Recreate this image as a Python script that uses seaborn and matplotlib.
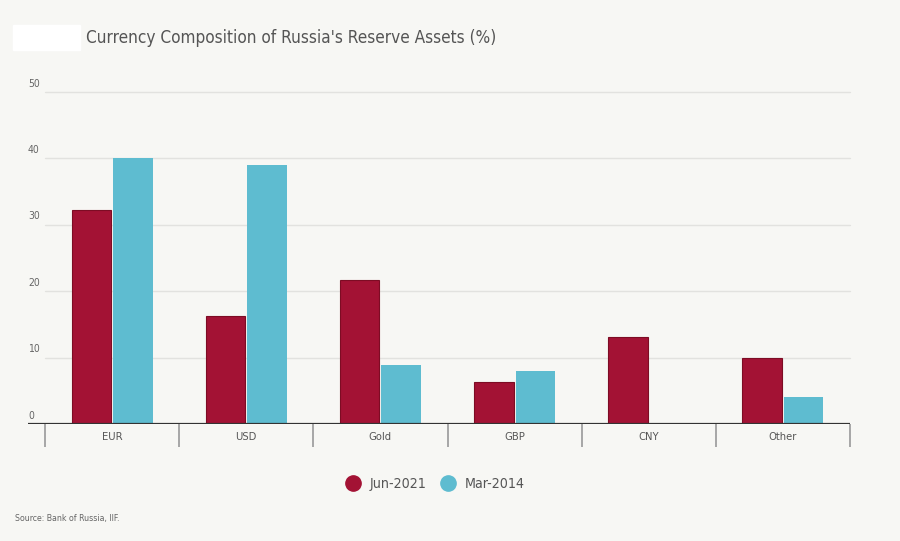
import matplotlib
matplotlib.use("Agg")
import matplotlib.pyplot as plt
import matplotlib.patches as mpatches
from matplotlib.lines import Line2D
import matplotlib.transforms as mtransforms
import seaborn as sns
import pandas as pd

categories = ["EUR", "USD", "Gold", "GBP", "CNY", "Other"]
series_names = ["Jun-2021", "Mar-2014"]
jun_2021 = [32.2, 16.3, 21.7, 6.4, 13.1, 9.9]
mar_2014 = [40.0, 39.0, 8.9, 8.0, 0.0, 4.0]
y_ticks = [0, 10, 20, 30, 40, 50]
colors = ["#a31234", "#5ebcd0"]
title = "Currency Composition of Russia's Reserve Assets (%)"
source = "Source: Bank of Russia, IIF."

df = pd.DataFrame({
    "category": categories * 2,
    "series": [series_names[0]] * len(categories) + [series_names[1]] * len(categories),
    "value": jun_2021 + mar_2014,
})

sns.set_theme(style="white")
plt.rcParams["font.family"] = ["DejaVu Sans"]
plt.rcParams["font.stretch"] = "condensed"

bg = "#f7f7f4"
fig = plt.figure(figsize=(9, 5.41), dpi=100, facecolor=bg)
W, H = 900, 541
ax = fig.add_axes([28 / W, (H - 424) / H, (850 - 28) / W, (424 - 92) / H])
ax.set_facecolor(bg)

sns.barplot(data=df, x="category", y="value", hue="series", order=categories,
            hue_order=series_names, palette=colors, width=0.62, gap=0.05,
            saturation=1, legend=False, ax=ax, edgecolor="none")
for p in ax.patches[:len(categories)]:
    p.set_edgecolor("#7d0c24")
    p.set_linewidth(0.8)

ax.set_xlim(-0.5 - 17 / 134, len(categories) - 0.5)
ax.set_ylim(0, 50)
for s in ax.spines.values():
    s.set_visible(False)
ax.axhline(0, color="#333333", lw=1.6, zorder=5)

ax.set_yticks([])
trans = mtransforms.blended_transform_factory(ax.transAxes, ax.transData)
for v in y_ticks:
    if v > 0:
        ax.plot([17 / 822, 1], [v, v], transform=trans, color="#e2e2df", lw=1,
                zorder=0, clip_on=False)
    ax.text(0, v + 0.5, str(v), transform=trans, ha="left", va="bottom",
            fontsize=7.5, color="#666666")

ax.set_xticks(range(len(categories)))
ax.set_xticklabels(categories, fontsize=8, color="#555555")
ax.set_xticks([i - 0.5 for i in range(len(categories) + 1)], minor=True)
ax.tick_params(axis="x", which="major", bottom=False, length=0, pad=6)
ax.tick_params(axis="x", which="minor", bottom=True, length=16.5, width=1.2,
               color="#999999", direction="out")
ax.set_xlabel("")
ax.set_ylabel("")

fig.patches.append(mpatches.Rectangle((13 / W, 1 - 50 / H), 67 / W, 25 / H,
                                      transform=fig.transFigure, color="white", zorder=0))
fig.text(86 / W, 1 - 38 / H, title, fontsize=12.3, color="#555555", va="center", ha="left")

handles = [Line2D([0], [0], marker="o", linestyle="none", markersize=11,
                  markerfacecolor=c, markeredgecolor=c) for c in colors]
fig.legend(handles, series_names, loc="center", bbox_to_anchor=(432 / W, 1 - 484 / H),
           ncol=2, frameon=False, fontsize=10.2, handletextpad=0.2, columnspacing=0.5,
           labelcolor="#555555")

fig.text(15 / W, 1 - 518 / H, source, fontsize=6.3, color="#666666", va="center", ha="left")

fig.savefig("out.png", dpi=100, facecolor=bg)
